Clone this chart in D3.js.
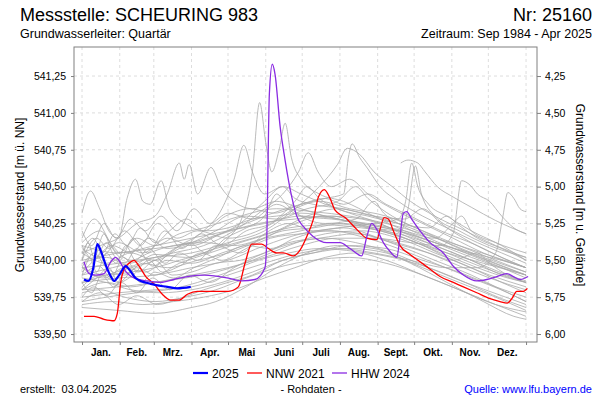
<!DOCTYPE html>
<html><head><meta charset="utf-8">
<script src="https://cdn.jsdelivr.net/npm/d3@7"></script>
<style>body{margin:0;background:#fff}svg{display:block}text{font-family:Arial,"Liberation Sans",sans-serif;fill:#000}</style>
</head><body><svg id="c" width="600" height="400"></svg>
<script>
// ---- data ----
const monthStarts = [0,31,59,90,120,151,181,212,243,273,304,334,365];
const monthLabels = ["Jan.","Feb.","Mrz.","Apr.","Mai","Juni","Juli","Aug.","Sept.","Okt.","Nov.","Dez."];
const levelTicks = [539.5,539.75,540.0,540.25,540.5,540.75,541.0,541.25];
const depthTicks = [4.25,4.5,4.75,5.0,5.25,5.5,5.75,6.0];
const groundLevel = 545.5;

// [day of year, level m ü. NN]
const y2025 = [[1.6,539.87],[5.2,539.86],[9.3,539.95],[12.6,540.11],[15.6,540.06],[20.3,539.95],[24.4,539.88],[26.3,539.86],[30.5,539.9],[35.9,539.96],[38.6,539.94],[44.1,539.88],[56.5,539.84],[70.1,539.82],[78.3,539.81],[89.4,539.82]];
const nnw2021 = [[1.6,539.62],[9.9,539.62],[18.1,539.6],[26.3,539.59],[29,539.64],[31.8,539.85],[34.5,539.94],[38.6,539.98],[42.7,540.0],[46.9,539.96],[52.4,539.89],[59.2,539.84],[66,539.77],[72.9,539.73],[79.7,539.73],[86.6,539.77],[94.8,539.79],[120.3,539.79],[128.5,539.82],[134,539.98],[139.5,540.11],[147.7,540.11],[153.2,540.08],[160.1,540.05],[165.5,540.05],[173.7,540.03],[179.2,540.07],[184.7,540.16],[190.2,540.28],[194.3,540.43],[199.2,540.48],[203.9,540.42],[208,540.34],[216.2,540.29],[225.8,540.21],[234.1,540.15],[242.3,540.14],[245,540.21],[248.3,540.29],[251.8,540.28],[255.9,540.2],[261.4,540.1],[269.6,540.04],[277.9,539.99],[286.1,539.94],[294.3,539.89],[305.2,539.85],[313.5,539.82],[324.5,539.78],[335.4,539.74],[343.6,539.72],[349.6,539.71],[353.3,539.74],[357.4,539.79],[362.8,539.79],[366.1,539.81]];
const hhw2024 = [[1.6,539.99],[5.8,539.91],[11.3,539.9],[18.1,539.91],[23.6,539.99],[27.7,540.02],[30.4,540.0],[34.5,539.94],[42.7,539.88],[53.7,539.86],[64.7,539.85],[75.6,539.87],[86.6,539.89],[100.3,539.9],[120.3,539.88],[131.3,539.86],[142.2,539.87],[150.4,539.95],[151.8,540.13],[154,541.13],[156.4,541.33],[158.7,541.26],[162.8,540.91],[166.9,540.68],[172.4,540.43],[176.5,540.3],[181.9,540.23],[190.2,540.16],[201.2,540.12],[212.1,540.12],[220.3,540.08],[229.9,540.03],[234.1,540.16],[238.2,540.25],[242.3,540.21],[247.7,540.12],[253.2,540.06],[258.7,540.02],[261.4,540.16],[264.1,540.32],[266.9,540.33],[271,540.28],[277.9,540.2],[286.1,540.12],[297,540.05],[305.2,539.96],[313.5,539.9],[324.5,539.86],[332.7,539.87],[340.9,539.89],[349.1,539.91],[354.6,539.89],[360.1,539.87],[366.7,539.89]];

const g01 = [[0,540.32],[7,540.47],[14,540.36],[22,540.2],[30,540.15],[37,540.42],[44,540.55],[50,540.4],[56,540.38],[65,540.54],[72,540.35],[85,540.25],[100,540.2],[120,540.22],[140,540.28],[160,540.3],[180,540.32],[200,540.3],[225,540.25],[250,540.2],[275,540.12],[300,540.05],[330,539.98],[365,539.9]];
const g02 = [[0,540.05],[15,540.1],[30,540.15],[45,540.25],[60,540.3],[70,540.45],[80,540.66],[84,540.55],[88,540.65],[95,540.45],[106,540.63],[114,540.5],[125,540.4],[140,540.35],[160,540.4],[180,540.35],[200,540.3],[230,540.25],[260,540.2],[290,540.12],[320,540.05],[345,540.0],[365,539.95]];
const g03 = [[0,539.95],[20,539.9],[40,539.92],[60,539.95],[80,540.0],[100,540.05],[120,540.15],[132,540.3],[140,540.6],[146,541.07],[151,540.8],[156,540.6],[162,540.75],[167,540.93],[172,540.7],[180,540.55],[195,540.45],[215,540.4],[240,540.3],[265,540.2],[290,540.12],[320,540.02],[345,539.95],[365,539.9]];
const g04 = [[0,539.85],[20,539.9],[40,539.95],[60,540.0],[80,540.1],[100,540.2],[115,540.35],[125,540.55],[133,540.78],[140,540.6],[150,540.45],[165,540.5],[180,540.45],[200,540.38],[220,540.32],[245,540.25],[270,540.15],[300,540.05],[330,539.95],[365,539.85]];
const g05 = [[0,539.9],[25,539.95],[50,540.0],[75,540.05],[100,540.1],[125,540.2],[150,540.35],[165,540.45],[178,540.6],[186,540.73],[194,540.6],[205,540.5],[220,540.55],[235,540.45],[255,540.35],[280,540.25],[305,540.15],[330,540.05],[365,539.95]];
const g06 = [[0,540.0],[30,540.05],[60,540.08],[90,540.12],[120,540.2],[150,540.3],[180,540.38],[200,540.42],[215,540.45],[219,540.7],[222,540.79],[228,540.7],[235,540.62],[245,540.5],[260,540.4],[280,540.3],[300,540.22],[325,540.12],[345,540.05],[365,539.98]];
const g07 = [[0,539.95],[30,539.98],[60,540.02],[90,540.05],[120,540.12],[150,540.2],[175,540.35],[195,540.5],[210,540.65],[218,540.76],[228,540.72],[240,540.6],[255,540.5],[270,540.4],[290,540.3],[315,540.2],[340,540.1],[365,540.02]];
const g08 = [[262,540.66],[268,540.68],[276,540.66],[282,540.6],[292,540.5],[305,540.43],[320,540.36],[340,540.27],[365,540.18]];
const g09 = [[0,539.85],[30,539.88],[60,539.9],[90,539.95],[120,540.0],[150,540.1],[180,540.18],[210,540.22],[240,540.25],[260,540.28],[266,540.4],[271,540.66],[276,540.5],[285,540.38],[300,540.3],[320,540.2],[345,540.1],[365,540.0]];
const g10 = [[0,540.1],[30,540.05],[60,540.1],[90,540.15],[120,540.2],[150,540.25],[180,540.3],[210,540.28],[240,540.22],[262,540.2],[268,540.35],[274,540.64],[279,540.45],[290,540.3],[310,540.2],[335,540.1],[365,540.02]];
const g11 = [[0,539.8],[30,539.82],[60,539.85],[90,539.9],[120,539.95],[150,540.02],[180,540.1],[210,540.15],[240,540.15],[270,540.12],[295,540.1],[305,540.18],[312,540.54],[319,540.51],[325,540.45],[335,540.4],[345,540.3],[355,540.22],[365,540.18]];
const g12 = [[0,539.75],[30,539.78],[60,539.8],[90,539.82],[120,539.9],[150,539.98],[180,540.05],[210,540.08],[240,540.05],[270,540.0],[300,539.95],[325,539.95],[340,540.05],[346,540.3],[350,540.46],[355,540.42],[360,540.35],[365,540.33]];
const g13 = [[0,540.12],[15,540.2],[30,540.05],[45,540.15],[60,540.1],[80,540.18],[100,540.22],[130,540.3],[160,540.35],[190,540.33],[220,540.3],[250,540.25],[280,540.18],[310,540.1],[340,540.02],[365,539.95]];
const g14 = [[0,539.9],[10,540.05],[20,539.95],[35,539.9],[50,539.98],[70,539.95],[95,540.0],[120,540.05],[150,540.15],[175,540.25],[200,540.3],[230,540.28],[260,540.2],[290,540.1],[320,540.0],[345,539.9],[365,539.85]];
const g15 = [[0,539.8],[20,539.85],[40,539.82],[60,539.85],[85,539.88],[110,539.92],[140,540.0],[170,540.1],[200,540.18],[230,540.2],[260,540.15],[290,540.05],[320,539.95],[345,539.85],[365,539.78]];
const g16 = [[0,539.7],[25,539.72],[50,539.7],[75,539.72],[100,539.75],[125,539.8],[150,539.88],[175,539.95],[200,540.02],[225,540.05],[250,540.0],[280,539.9],[310,539.8],[340,539.7],[365,539.62]];
const g17 = [[0,539.68],[30,539.66],[60,539.64],[90,539.68],[110,539.72],[135,539.82],[160,539.95],[185,540.05],[210,540.1],[240,540.08],[270,539.98],[300,539.85],[330,539.72],[355,539.62],[365,539.6]];
const g18 = [[0,540.0],[12,540.15],[22,540.08],[35,540.2],[48,540.1],[62,540.25],[78,540.15],[95,540.2],[120,540.15],[150,540.22],[175,540.35],[195,540.4],[220,540.35],[250,540.3],[280,540.2],[310,540.1],[340,540.0],[365,539.92]];
const g19 = [[0,539.95],[18,539.88],[35,539.95],[52,539.92],[70,540.0],[90,539.98],[115,540.05],[140,540.12],[165,540.2],[190,540.22],[215,540.25],[245,540.2],[275,540.12],[305,540.0],[335,539.9],[365,539.82]];
const g20 = [[0,540.15],[10,540.28],[25,540.1],[40,540.0],[55,540.05],[75,540.1],[100,540.12],[125,540.1],[150,540.15],[180,540.2],[205,540.25],[235,540.22],[265,540.15],[295,540.05],[325,539.95],[350,539.88],[365,539.85]];
const g21 = [[0,539.82],[15,539.9],[30,539.85],[45,539.95],[60,539.9],[80,539.98],[105,540.05],[130,540.12],[160,540.2],[185,540.3],[210,540.35],[240,540.3],[265,540.28],[280,540.35],[295,540.25],[320,540.12],[345,540.02],[365,539.95]];
const g22 = [[0,539.88],[20,539.85],[40,539.8],[65,539.78],[90,539.8],[115,539.85],[140,539.92],[165,540.0],[190,540.05],[220,540.1],[250,540.08],[280,540.0],[310,539.92],[340,539.82],[365,539.75]];
const g23 = [[0,540.05],[20,539.98],[40,540.05],[60,540.0],[80,540.08],[105,540.15],[130,540.25],[150,540.4],[165,540.5],[175,540.42],[190,540.38],[215,540.35],[240,540.3],[270,540.22],[300,540.12],[330,540.02],[365,539.92]];
const g24 = [[0,539.78],[15,539.8],[35,539.75],[60,539.72],[85,539.75],[110,539.8],[135,539.88],[160,539.95],[190,540.0],[220,540.02],[250,539.98],[280,539.9],[310,539.8],[340,539.7],[365,539.65]];
const g25 = [[0,539.92],[10,540.0],[25,540.1],[40,540.05],[55,540.15],[70,540.08],[90,540.12],[110,540.2],[135,540.3],[160,540.28],[185,540.35],[210,540.4],[225,540.5],[235,540.42],[255,540.3],[280,540.2],[310,540.08],[340,539.98],[365,539.9]];
const g26 = [[0,539.98],[20,540.02],[40,539.96],[60,540.04],[85,540.02],[110,540.08],[140,540.15],[170,540.22],[200,540.24],[230,540.22],[260,540.18],[290,540.1],[320,540.0],[350,539.9],[365,539.86]];
const g27 = [[0,539.72],[20,539.75],[45,539.78],[70,539.8],[95,539.85],[120,539.92],[145,540.0],[170,540.05],[195,540.08],[225,540.06],[255,540.02],[285,539.95],[315,539.85],[345,539.74],[365,539.68]];
const g28 = [[0,540.08],[15,540.02],[30,540.12],[50,540.05],[70,540.15],[90,540.1],[115,540.18],[145,540.25],[175,540.28],[205,540.3],[230,540.25],[260,540.2],[290,540.12],[320,540.04],[345,539.96],[365,539.9]];
const g29 = [[0,539.95],[6,540.02],[12,539.92],[20,540.05],[28,539.98],[36,540.1],[44,540.0],[55,540.08],[68,539.98],[80,540.05],[95,540.0],[110,540.1],[130,540.05],[150,540.18],[170,540.25],[190,540.2],[215,540.22],[245,540.15],[275,540.08],[305,539.98],[335,539.88],[365,539.8]];
const g30 = [[0,539.85],[8,539.78],[16,539.9],[26,539.82],[38,539.95],[48,539.85],[60,539.92],[75,539.88],[92,539.95],[112,540.02],[135,540.1],[155,540.08],[175,540.15],[200,540.2],[230,540.18],[260,540.1],[290,540.0],[320,539.9],[345,539.8],[365,539.72]];
const g31 = [[0,540.2],[8,540.1],[18,540.25],[28,540.15],[40,540.28],[52,540.2],[65,540.3],[78,540.2],[92,540.35],[105,540.25],[120,540.32],[140,540.28],[160,540.38],[180,540.3],[205,540.28],[235,540.25],[265,540.2],[290,540.15],[305,540.25],[312,540.3],[320,540.2],[340,540.12],[365,540.05]];
const g32 = [[0,539.75],[10,539.82],[20,539.76],[32,539.85],[45,539.78],[58,539.88],[72,539.8],[88,539.9],[105,539.85],[125,539.95],[150,540.05],[175,540.12],[200,540.15],[225,540.12],[255,540.05],[285,539.95],[315,539.85],[345,539.76],[365,539.7]];
const g33 = [[0,540.0],[5,540.12],[10,540.02],[18,540.18],[25,540.05],[35,539.98],[45,540.08],[58,539.96],[72,540.05],[88,540.12],[102,540.05],[118,540.15],[135,540.22],[150,540.3],[160,540.45],[168,540.38],[180,540.3],[200,540.25],[225,540.28],[240,540.4],[248,540.32],[260,540.25],[285,540.15],[315,540.05],[345,539.95],[365,539.88]];
const g34 = [[0,539.9],[14,539.96],[24,539.88],[34,540.02],[46,539.92],[60,540.0],[74,539.9],[90,539.92],[110,539.98],[130,540.0],[150,540.05],[170,540.12],[195,540.15],[225,540.18],[255,540.12],[285,540.05],[305,540.0],[325,540.05],[335,539.98],[350,539.9],[365,539.85]];
const g35 = [[0,539.8],[12,539.88],[22,539.95],[30,539.85],[42,539.9],[55,540.0],[66,539.92],[80,539.96],[98,540.05],[115,540.0],[135,540.08],[155,540.15],[180,540.18],[205,540.2],[230,540.16],[260,540.08],[290,539.98],[320,539.88],[350,539.78],[365,539.72]];
const g36 = [[0,540.1],[10,540.0],[20,540.12],[32,540.02],[42,540.15],[54,540.05],[68,540.2],[82,540.08],[98,540.18],[115,540.1],[135,540.2],[155,540.25],[175,540.4],[185,540.5],[195,540.42],[210,540.35],[235,540.3],[260,540.25],[285,540.22],[300,540.3],[308,540.25],[325,540.15],[345,540.08],[365,540.0]];
const g37 = [[0,539.72],[15,539.78],[30,539.7],[45,539.76],[62,539.7],[80,539.74],[100,539.8],[120,539.85],[140,539.9],[165,540.0],[190,540.05],[220,540.08],[250,540.05],[280,539.95],[310,539.85],[340,539.75],[365,539.66]];
const g38 = [[0,540.05],[9,540.15],[17,540.05],[27,540.18],[37,540.1],[48,540.22],[60,540.12],[72,540.2],[86,540.28],[100,540.2],[118,540.3],[138,540.35],[158,540.32],[180,540.38],[200,540.42],[215,540.38],[235,540.45],[250,540.38],[270,540.3],[295,540.2],[325,540.1],[350,540.0],[365,539.95]];
const grayYears = [g01,g02,g03,g04,g05,g06,g07,g08,g09,g10,g11,g12,g13,g14,g15,g16,g17,g18,g19,g20,g21,g22,g23,g24,g25,g26,g27,g28,g29,g30,g31,g32,g33,g34,g35,g36,g37,g38];

// ---- layout ----
const svg = d3.select("#c");
const L = 74, R = 537, T = 47, B = 342;
const x = d3.scaleLinear().domain([-6.6, 374]).range([L, R]);
const y = d3.scaleLinear().domain([539.446, 541.447]).range([B, T]);
const yR = d3.scaleLinear().domain([groundLevel-539.446, groundLevel-541.447]).range([B, T]);
const fmt = d3.formatLocale({decimal:",",thousands:".",grouping:[3],currency:["","€"]}).format(".2f");

// grid
const grid = svg.append("g").attr("stroke","#d4d4d4").attr("stroke-dasharray","3,3").attr("stroke-width",0.8);
levelTicks.forEach(v=>grid.append("line").attr("x1",L).attr("x2",R).attr("y1",y(v)).attr("y2",y(v)));
monthStarts.forEach(d=>grid.append("line").attr("x1",x(d)).attr("x2",x(d)).attr("y1",T).attr("y2",B));

// lines
const line = d3.line().x(d=>x(d[0])).y(d=>y(d[1])).curve(d3.curveMonotoneX);
svg.append("clipPath").attr("id","pc").append("rect").attr("x",L).attr("y",T).attr("width",R-L).attr("height",B-T);
const plot = svg.append("g").attr("clip-path","url(#pc)");
plot.selectAll(".g").data(grayYears).join("path").attr("fill","none").attr("stroke","#aaaaaa").attr("stroke-width",0.8).attr("d",line);
plot.append("path").datum(nnw2021).attr("fill","none").attr("stroke","#ff0000").attr("stroke-width",1.3).attr("d",line);
plot.append("path").datum(hhw2024).attr("fill","none").attr("stroke","#8a2be2").attr("stroke-width",1.3).attr("d",line);
plot.append("path").datum(y2025).attr("fill","none").attr("stroke","#0000ff").attr("stroke-width",2.2).attr("d",line);

// axes
const axL = svg.append("g").attr("transform",`translate(${L},0)`).call(d3.axisLeft(y).tickValues(levelTicks).tickFormat(fmt).tickSizeInner(3).tickSizeOuter(0).tickPadding(5));
const axR = svg.append("g").attr("transform",`translate(${R},0)`).call(d3.axisRight(yR).tickValues(depthTicks).tickFormat(fmt).tickSizeInner(4).tickSizeOuter(0).tickPadding(4));
const axB = svg.append("g").attr("transform",`translate(0,${B})`).call(d3.axisBottom(x).tickValues(monthStarts).tickFormat("").tickSizeInner(3).tickSizeOuter(0));
[axL,axR,axB].forEach(a=>{a.select(".domain").remove();a.selectAll("line").attr("stroke","#808080");a.selectAll("text").attr("font-size","10.5px").attr("fill","#000").attr("font-family","Arial, 'Liberation Sans', sans-serif");});
svg.append("rect").attr("x",L).attr("y",T).attr("width",R-L).attr("height",B-T).attr("fill","none").attr("stroke","#808080").attr("stroke-width",1);

svg.append("g").selectAll("text").data(monthLabels).join("text")
  .attr("x",(d,i)=>x((monthStarts[i]+monthStarts[i+1])/2)).attr("y",356).attr("text-anchor","middle")
  .attr("font-size","10px").attr("font-weight","bold").text(d=>d);

// texts
svg.append("text").attr("x",20).attr("y",21).attr("font-size","18px").text("Messstelle: SCHEURING 983");
svg.append("text").attr("x",592).attr("y",21).attr("text-anchor","end").attr("font-size","18px").text("Nr: 25160");
svg.append("text").attr("x",20).attr("y",38).attr("font-size","12.5px").text("Grundwasserleiter: Quartär");
svg.append("text").attr("x",592).attr("y",38).attr("text-anchor","end").attr("font-size","12.5px").text("Zeitraum: Sep 1984 - Apr 2025");
svg.append("text").attr("transform","translate(24,195) rotate(-90)").attr("text-anchor","middle").attr("font-size","12px").text("Grundwasserstand [m ü. NN]");
svg.append("text").attr("transform","translate(576,195) rotate(90)").attr("text-anchor","middle").attr("font-size","12px").text("Grundwasserstand [m u. Gelände]");

// legend
const legend = [["2025","#0000ff",2.2,193],["NNW 2021","#ff0000",1.3,247],["HHW 2024","#8a2be2",1.3,332]];
const lg = svg.append("g");
legend.forEach(([t,c,w,lx])=>{
  lg.append("line").attr("x1",lx).attr("x2",lx+15).attr("y1",373).attr("y2",373).attr("stroke",c).attr("stroke-width",w);
  lg.append("text").attr("x",lx+19).attr("y",377.5).attr("font-size","12px").text(t);
});

svg.append("text").attr("x",20).attr("y",393).attr("font-size","11px").style("white-space","pre").text("erstellt:  03.04.2025");
svg.append("text").attr("x",311).attr("y",393).attr("text-anchor","middle").attr("font-size","11px").text("- Rohdaten -");
svg.append("text").attr("x",592).attr("y",393).attr("text-anchor","end").attr("font-size","11px").style("fill","#0000ff").text("Quelle: www.lfu.bayern.de");
</script></body></html>
